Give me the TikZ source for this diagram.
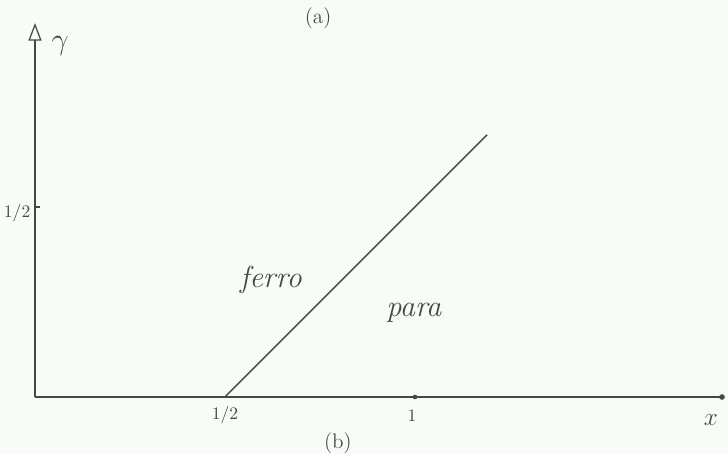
\documentclass[tikz,border=0pt]{standalone}
\usepackage{amsmath, amssymb}
\usepackage{xcolor}
\usetikzlibrary{arrows.meta, positioning, calc}

\definecolor{paper}{RGB}{248,251,248}
\definecolor{pencil}{RGB}{70,72,70}

\begin{document}
\begin{tikzpicture}[
    x=7.6cm, y=7.6cm,
    font=\Large,
    lbl/.style={text=pencil, inner sep=1pt},
    axis/.style={draw=pencil, line width=0.7pt},
    arrow/.style={-{Triangle[open, length=3.5mm, width=2.6mm]}, axis},
    phase/.style={draw=pencil, line width=0.8pt}
]

% Frame
\useasboundingbox[fill=paper] (-0.0921,-0.15) rectangle (1.8237,1.0447);

% Axes
\coordinate (O) at (0,0);
\coordinate (xend) at (1.808,0);
\coordinate (yend) at (0,0.984);
\draw[axis] (O) -- (xend);
\draw[arrow] (O) -- (yend);
\fill[pencil] (xend) circle (1.6pt);

% Ticks
\coordinate (yhalf) at (0,0.5);
\coordinate (xone) at (1,0);
\draw[axis] (yhalf) -- ++(0.012,0);
\fill[pencil] (xone) circle (1.3pt);

% Axis labels
\node[lbl, font=\LARGE] (gam) at (0.066,0.924) {$\gamma$};
\node[lbl] (xlab) at (1.779,-0.06) {$x$};
\node[lbl, font=\normalsize] (ylh) at (-0.047,0.484) {$1/2$};
\node[lbl, font=\normalsize] (xlh) at (0.5,-0.047) {$1/2$};
\node[lbl, font=\normalsize] (xl1) at (0.992,-0.05) {$1$};

% Phase boundary
\coordinate (hx) at (0.5,0);
\coordinate (bend) at (1.19,0.69);
\draw[phase] (hx) -- (bend);

% Phases
\node[lbl, font=\LARGE\itshape] (ferro) at (0.621,0.308) {ferro};
\node[lbl, font=\LARGE\itshape] (para) at (0.997,0.221) {para};

% Panel marks
\node[lbl, font=\large] (pa) at (0.745,0.997) {(a)};
\node[lbl, font=\large] (pb) at (0.797,-0.121) {(b)};

\end{tikzpicture}
\end{document}
